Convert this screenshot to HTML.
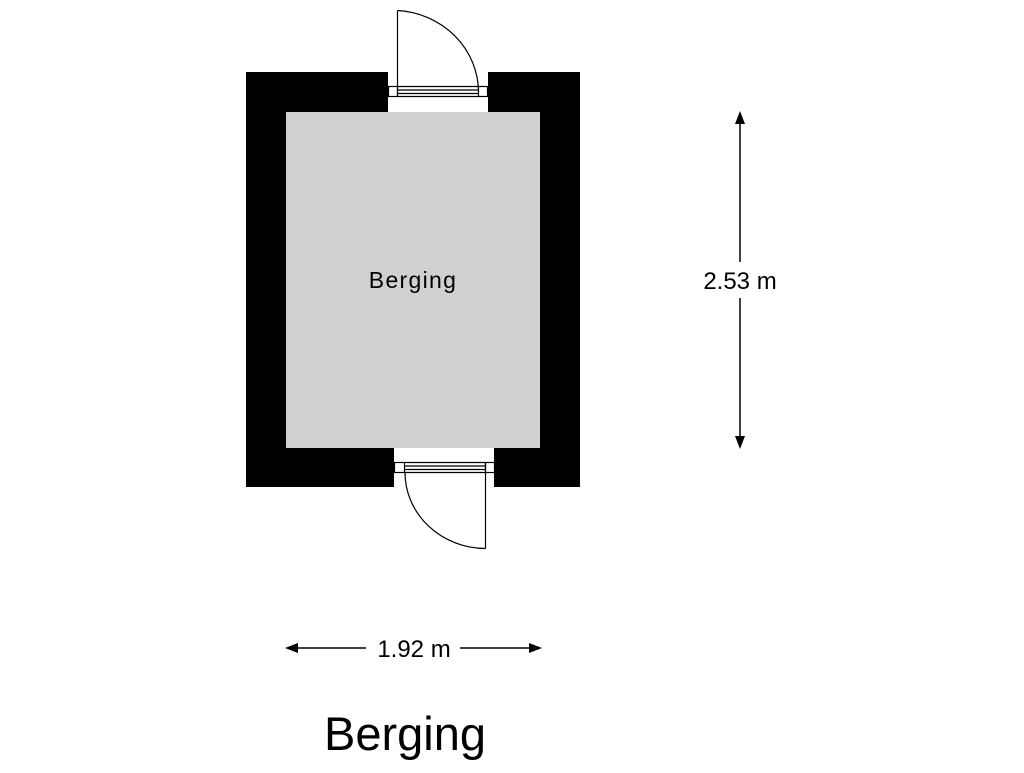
<!DOCTYPE html>
<html><head><style>
body{margin:0;background:#fff;width:1024px;height:768px;overflow:hidden}
svg text{font-family:"Liberation Sans",sans-serif}
</style></head><body>
<svg width="1024" height="768" viewBox="0 0 1024 768" xmlns="http://www.w3.org/2000/svg">
<rect x="246" y="72" width="334" height="415" fill="#000"/>
<rect x="286" y="112" width="254" height="336" fill="#d0d0d0"/>
<rect x="388" y="72" width="100" height="40" fill="#fff"/>
<rect x="394" y="448" width="100" height="39" fill="#fff"/>
<g fill="none" stroke="#000" stroke-width="1.2">
<rect x="388.5" y="86.5" width="9" height="10"/>
<rect x="478.5" y="86.5" width="9" height="10"/>
<line x1="397.5" y1="86.5" x2="478.5" y2="86.5"/>
<line x1="397.5" y1="90" x2="478.5" y2="90"/>
<line x1="397.5" y1="93.5" x2="478.5" y2="93.5"/>
<line x1="397.5" y1="96.5" x2="478.5" y2="96.5"/>
<line x1="397.5" y1="10.5" x2="397.5" y2="96.5"/>
<path d="M397.5 10.5 A86 82 0 0 1 478.5 92"/>
<rect x="394.5" y="462.5" width="10" height="10"/>
<rect x="485.5" y="462.5" width="9" height="10"/>
<line x1="404.5" y1="462.5" x2="485.5" y2="462.5"/>
<line x1="404.5" y1="466" x2="485.5" y2="466"/>
<line x1="404.5" y1="469.5" x2="485.5" y2="469.5"/>
<line x1="404.5" y1="472.5" x2="485.5" y2="472.5"/>
<line x1="485.5" y1="462.5" x2="485.5" y2="548.5"/>
<path d="M405 472.5 A81 76 0 0 0 485.5 548.5"/>
</g>
<g stroke="#000" stroke-width="1.5">
<line x1="740" y1="118" x2="740" y2="262"/>
<line x1="740" y1="298" x2="740" y2="442"/>
<line x1="292" y1="648" x2="366" y2="648"/>
<line x1="460" y1="648" x2="535" y2="648"/>
</g>
<g fill="#000">
<polygon points="740,111 735,124 745,124"/>
<polygon points="740,449 735,436 745,436"/>
<polygon points="285,648 298,643 298,653"/>
<polygon points="542,648 529,643 529,653"/>
</g>
<text x="413" y="288" font-size="23" text-anchor="middle" letter-spacing="1.3">Berging</text>
<text x="740" y="289" font-size="24" text-anchor="middle">2.53 m</text>
<text x="414" y="657" font-size="24" text-anchor="middle">1.92 m</text>
<text x="405" y="750" font-size="47" text-anchor="middle">Berging</text>
</svg>
</body></html>
